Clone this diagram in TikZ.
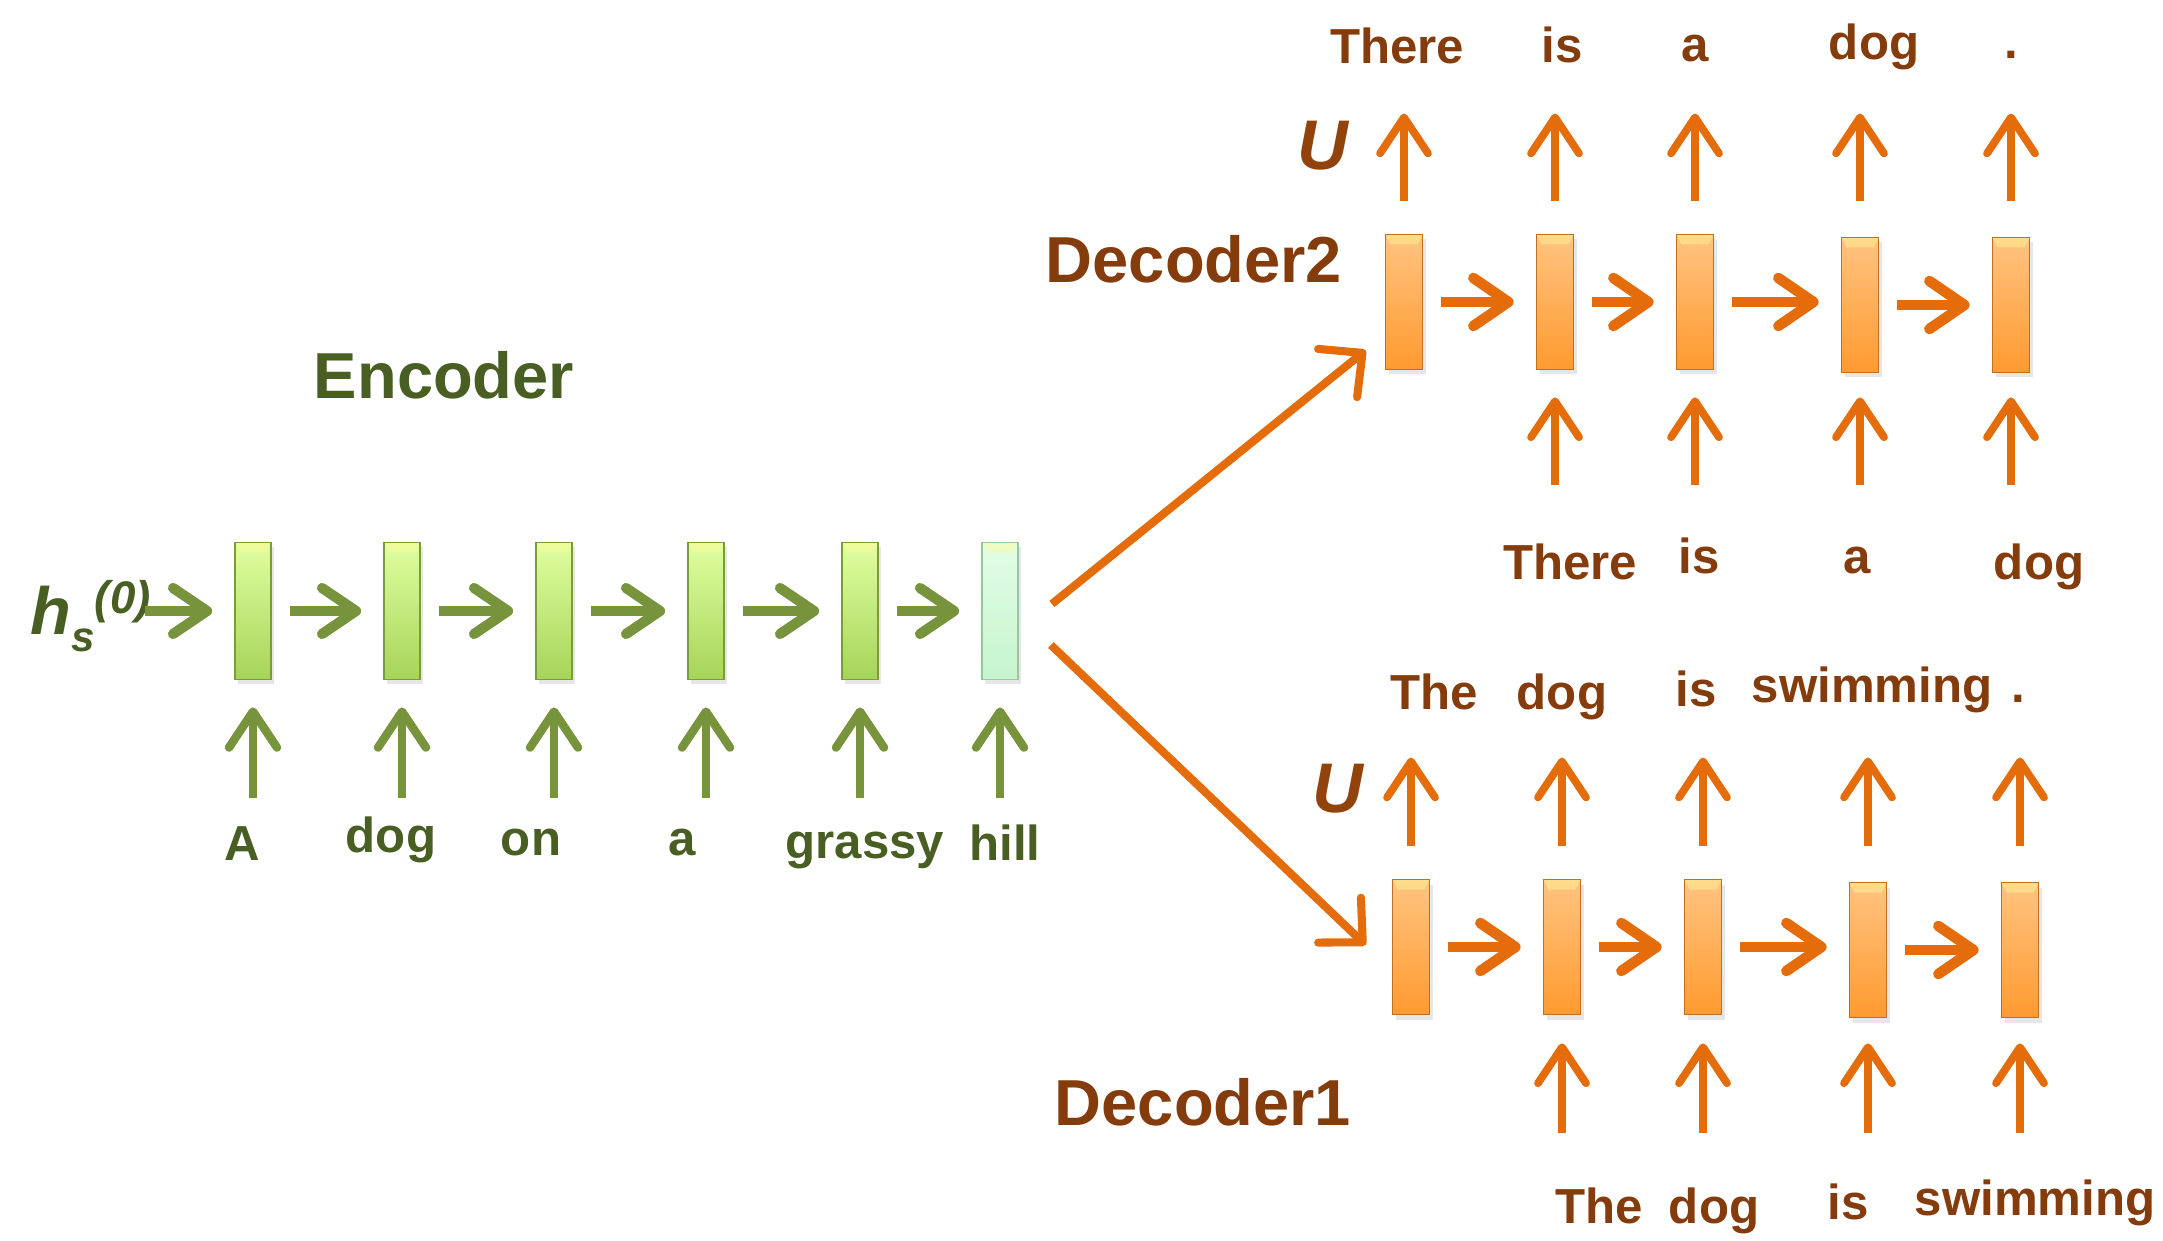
\documentclass[tikz,border=0pt]{standalone}
\usepackage{fontspec}
\setmainfont{Liberation Sans}
\usepackage{tikz}
\usetikzlibrary{arrows.meta,shadows}

\definecolor{encline}{RGB}{119,147,60}
\definecolor{enctext}{RGB}{72,94,34}
\definecolor{gtop}{RGB}{224,255,160}
\definecolor{gbot}{RGB}{166,212,90}
\definecolor{gedge}{RGB}{124,155,60}
\definecolor{mtop}{RGB}{226,253,230}
\definecolor{mbot}{RGB}{198,244,206}
\definecolor{medge}{RGB}{150,200,158}
\definecolor{decline}{RGB}{228,108,10}
\definecolor{dectext}{RGB}{132,60,12}
\definecolor{otop}{RGB}{255,196,128}
\definecolor{obot}{RGB}{255,154,48}
\definecolor{oedge}{RGB}{192,112,31}

\tikzstyle{bevel}=[path picture={\fill[yellow!40!white,opacity=0.45] (path picture bounding box.north west) -- (path picture bounding box.north east) -- ([shift={(-5,10)}]path picture bounding box.north east) -- ([shift={(5,10)}]path picture bounding box.north west) -- cycle;}]
\tikzstyle{cell}=[bevel, line width=0.5pt, inner sep=0pt, drop shadow={shadow xshift=0.3mm, shadow yshift=-0.5mm, opacity=0.2}]
\tikzstyle{gcell}=[cell, draw=gedge, top color=gtop, bottom color=gbot, minimum width=3.6mm, minimum height=13.7mm]
\tikzstyle{hcell}=[cell, draw=medge, top color=mtop, bottom color=mbot, minimum width=3.6mm, minimum height=13.7mm]
\tikzstyle{ocell}=[cell, draw=oedge, top color=otop, bottom color=obot, minimum width=3.7mm, minimum height=13.5mm]
\tikzstyle{gnext}=[draw=encline, line width=2.9pt, shorten <=1.8mm, shorten >=2.2mm, -{Straight Barb[length=3.4mm,width=4.6mm,round]}]
\tikzstyle{gup}=[draw=encline, line width=2.4pt, -{Straight Barb[length=3.6mm,width=4.8mm,round]}]
\tikzstyle{onext}=[draw=decline, line width=3.0pt, shorten <=1.8mm, shorten >=2.2mm, -{Straight Barb[length=3.5mm,width=4.8mm,round]}]
\tikzstyle{oup}=[draw=decline, line width=2.2pt, -{Straight Barb[length=3.6mm,width=4.8mm,round]}]
\tikzstyle{ofeed}=[draw=decline, line width=2.3pt, -{Straight Barb[length=3.2mm,width=6.2mm,round]}]
\tikzstyle{word}=[inner sep=0pt, text height=10pt, text depth=3pt, font=\bfseries\fontsize{14}{14}\selectfont]
\tikzstyle{gword}=[word, text=enctext]
\tikzstyle{oword}=[word, text=dectext]
\tikzstyle{title}=[inner sep=0pt, font=\bfseries\fontsize{18.5}{18.5}\selectfont]
\tikzstyle{weight}=[inner sep=0pt, text=dectext!85!decline, font=\bfseries\itshape\fontsize{20}{20}\selectfont]

\begin{document}
\begin{tikzpicture}[x=0.1mm, y=-0.1mm]
	\useasboundingbox (0,0) rectangle (2163,1241);

	% encoder
	\node[title, text=enctext] (enc) at (444,375) {Encoder};
	\node[inner sep=0pt, anchor=base west, text=enctext, font=\bfseries\itshape\fontsize{19}{19}\selectfont] (hs) at (30,635) {h\raisebox{-4.8pt}{\fontsize{12}{12}\selectfont s}\raisebox{6pt}{\fontsize{13}{13}\selectfont (0)}};
	\node[gcell] (e1) at (253,611) {};
	\node[gcell] (e2) at (402,611) {};
	\node[gcell] (e3) at (554,611) {};
	\node[gcell] (e4) at (706,611) {};
	\node[gcell] (e5) at (860,611) {};
	\node[hcell] (e6) at (1000,611) {};
	\node[gword] (x1) at (242,848) {A};
	\node[gword] (x2) at (391,840) {dog};
	\node[gword] (x3) at (531,843) {on};
	\node[gword] (x4) at (682,843) {a};
	\node[gword] (x5) at (865,846) {grassy};
	\node[gword] (x6) at (1005,848) {hill};
	\draw[gnext, shorten <=-0.6mm] (hs.east |- e1.west) -- (e1.west);
	\draw[gnext] (e1.east) -- (e2.west);
	\draw[gnext] (e2.east) -- (e3.west);
	\draw[gnext] (e3.east) -- (e4.west);
	\draw[gnext] (e4.east) -- (e5.west);
	\draw[gnext] (e5.east) -- (e6.west);
	\draw[gup, shorten <=2.6mm, shorten >=2.7mm] (e1.south |- x1.north) -- (e1.south);
	\draw[gup, shorten <=1.8mm, shorten >=2.7mm] (e2.south |- x2.north) -- (e2.south);
	\draw[gup, shorten <=2.1mm, shorten >=2.7mm] (e3.south |- x3.north) -- (e3.south);
	\draw[gup, shorten <=2.1mm, shorten >=2.7mm] (e4.south |- x4.north) -- (e4.south);
	\draw[gup, shorten <=2.4mm, shorten >=2.7mm] (e5.south |- x5.north) -- (e5.south);
	\draw[gup, shorten <=2.6mm, shorten >=2.7mm] (e6.south |- x6.north) -- (e6.south);

	% decoder 2
	\node[title, text=dectext] (dec2) at (1194,259) {Decoder2};
	\node[weight] (u2) at (1323,146) {U};
	\node[ocell] (a1) at (1404,302) {};
	\node[ocell] (a2) at (1555,302) {};
	\node[ocell] (a3) at (1695,302) {};
	\node[ocell] (a4) at (1860,305) {};
	\node[ocell] (a5) at (2011,305) {};
	\node[oword] (p1) at (1397,51) {There};
	\node[oword] (p2) at (1562,50) {is};
	\node[oword] (p3) at (1695,49) {a};
	\node[oword] (p4) at (1874,47) {dog};
	\node[oword] (p5) at (2011,46) {.};
	\node[oword] (q2) at (1570,567) {There};
	\node[oword] (q3) at (1699,561) {is};
	\node[oword] (q4) at (1857,561) {a};
	\node[oword] (q5) at (2039,567) {dog};
	\draw[onext] (a1.east) -- (a2.west |- a1.east);
	\draw[onext] (a2.east) -- (a3.west |- a2.east);
	\draw[onext] (a3.east) -- (a4.west |- a3.east);
	\draw[onext] (a4.east) -- (a5.west |- a4.east);
	\draw[oup, shorten <=3.3mm, shorten >=3.9mm] (a1.north) -- (a1.north |- p1.south);
	\draw[oup, shorten <=3.3mm, shorten >=4.0mm] (a2.north) -- (a2.north |- p2.south);
	\draw[oup, shorten <=3.3mm, shorten >=4.1mm] (a3.north) -- (a3.north |- p3.south);
	\draw[oup, shorten <=3.6mm, shorten >=4.3mm] (a4.north) -- (a4.north |- p4.south);
	\draw[oup, shorten <=3.6mm, shorten >=4.4mm] (a5.north) -- (a5.north |- p5.south);
	\draw[oup, shorten <=5.8mm, shorten >=2.7mm] (a2.south |- q2.north) -- (a2.south);
	\draw[oup, shorten <=5.2mm, shorten >=2.7mm] (a3.south |- q3.north) -- (a3.south);
	\draw[oup, shorten <=5.2mm, shorten >=2.4mm] (a4.south |- q4.north) -- (a4.south);
	\draw[oup, shorten <=5.8mm, shorten >=2.4mm] (a5.south |- q5.north) -- (a5.south);

	% decoder 1
	\node[title, text=dectext] (dec1) at (1203,1102) {Decoder1};
	\node[weight] (u1) at (1338,789) {U};
	\node[ocell] (b1) at (1411,947) {};
	\node[ocell] (b2) at (1562,947) {};
	\node[ocell] (b3) at (1703,947) {};
	\node[ocell] (b4) at (1868,950) {};
	\node[ocell] (b5) at (2020,950) {};
	\node[oword] (r1) at (1434,697) {The};
	\node[oword] (r2) at (1562,697) {dog};
	\node[oword] (r3) at (1696,694) {is};
	\node[oword] (r4) at (1872,690) {swimming};
	\node[oword] (r5) at (2018,690) {.};
	\node[oword] (s2) at (1599,1211) {The};
	\node[oword] (s3) at (1714,1211) {dog};
	\node[oword] (s4) at (1848,1207) {is};
	\node[oword] (s5) at (2035,1203) {swimming};
	\draw[onext] (b1.east) -- (b2.west |- b1.east);
	\draw[onext] (b2.east) -- (b3.west |- b2.east);
	\draw[onext] (b3.east) -- (b4.west |- b3.east);
	\draw[onext] (b4.east) -- (b5.west |- b4.east);
	\draw[oup, shorten <=3.3mm, shorten >=3.7mm] (b1.north) -- (b1.north |- r1.south);
	\draw[oup, shorten <=3.3mm, shorten >=3.7mm] (b2.north) -- (b2.north |- r2.south);
	\draw[oup, shorten <=3.3mm, shorten >=4.0mm] (b3.north) -- (b3.north |- r3.south);
	\draw[oup, shorten <=3.6mm, shorten >=4.4mm] (b4.north) -- (b4.north |- r4.south);
	\draw[oup, shorten <=3.6mm, shorten >=4.4mm] (b5.north) -- (b5.north |- r5.south);
	\draw[oup, shorten <=5.4mm, shorten >=2.8mm] (b2.south |- s2.north) -- (b2.south);
	\draw[oup, shorten <=5.4mm, shorten >=2.8mm] (b3.south |- s3.north) -- (b3.south);
	\draw[oup, shorten <=5.0mm, shorten >=2.5mm] (b4.south |- s4.north) -- (b4.south);
	\draw[oup, shorten <=4.6mm, shorten >=2.5mm] (b5.south |- s5.north) -- (b5.south);

	% encoder to decoders
	\draw[ofeed] ([shift={(33,-7)}]e6.east) -- ([shift={(-19,-20)}]a1.south west);
	\draw[ofeed] ([shift={(32,34)}]e6.east) -- ([shift={(-26,-2)}]b1.west);
\end{tikzpicture}
\end{document}
